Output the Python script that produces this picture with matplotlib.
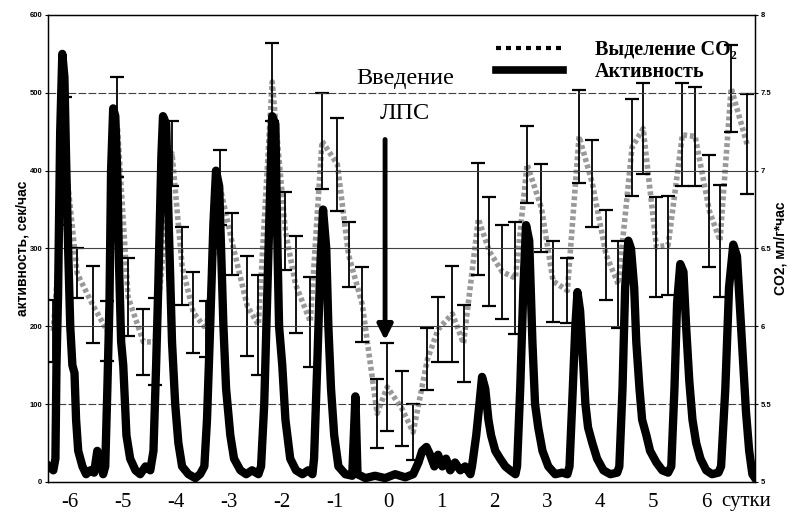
import matplotlib
matplotlib.use("Agg")
import matplotlib.pyplot as plt
from matplotlib.lines import Line2D
import matplotlib.transforms as mtransforms
import numpy as np

# activity (sec/hour) vs time in days relative to LPS injection
act_day = [-6.40, -6.32, -6.28, -6.26, -6.23, -6.19, -6.15, -6.11, -6.08, -6.04, -6.00, -5.96,
           -5.92, -5.89, -5.85, -5.77, -5.70, -5.62, -5.55, -5.49, -5.43, -5.38,
           -5.34, -5.30, -5.26, -5.23, -5.19, -5.15, -5.11, -5.08, -5.04, -5.00, -4.94, -4.87,
           -4.77, -4.68, -4.58, -4.49,
           -4.43, -4.38, -4.34, -4.28, -4.25, -4.19, -4.15, -4.11, -4.08, -4.02, -3.96, -3.89,
           -3.77, -3.64, -3.55,
           -3.47, -3.42, -3.36, -3.30, -3.25, -3.19, -3.15, -3.11, -3.06, -2.98, -2.91, -2.79,
           -2.68, -2.57, -2.45,
           -2.40, -2.34, -2.28, -2.23, -2.19, -2.13, -2.09, -2.06, -2.00, -1.94, -1.85, -1.74,
           -1.62, -1.51, -1.43,
           -1.40, -1.34, -1.28, -1.23, -1.17, -1.13, -1.08, -1.02, -0.94, -0.81, -0.68,
           -0.62, -0.58, -0.43, -0.25, -0.06, 0.13, 0.32, 0.47, 0.57, 0.64, 0.72, 0.79, 0.87,
           0.94, 1.02, 1.09, 1.17, 1.26, 1.36, 1.45, 1.55,
           1.58, 1.66, 1.72, 1.77, 1.83, 1.89, 1.94, 2.02, 2.11, 2.21, 2.30, 2.40,
           2.43, 2.49, 2.55, 2.60, 2.66, 2.72, 2.77, 2.83, 2.91, 3.02, 3.15, 3.28, 3.38,
           3.42, 3.47, 3.53, 3.57, 3.62, 3.68, 3.72, 3.77, 3.85, 3.94, 4.06, 4.19, 4.32,
           4.36, 4.42, 4.47, 4.53, 4.58, 4.64, 4.68, 4.74, 4.79, 4.87, 4.94, 5.06, 5.17, 5.28,
           5.34, 5.40, 5.45, 5.51, 5.57, 5.62, 5.68, 5.74, 5.81, 5.89, 6.00, 6.11, 6.23,
           6.28, 6.36, 6.43, 6.51, 6.58, 6.64, 6.70, 6.75, 6.81, 6.87, 6.92]
act_val = [20, 15, 30, 150, 240, 450, 550, 520, 420, 300, 200, 150,
           140, 80, 40, 20, 10, 15, 12, 40, 25, 10,
           20, 120, 230, 400, 480, 470, 390, 280, 180, 150, 60, 30,
           15, 10, 20, 15,
           40, 150, 250, 420, 470, 460, 350, 250, 180, 100, 50, 20,
           10, 5, 10,
           20, 80, 200, 330, 400, 380, 290, 200, 120, 60, 30, 15,
           10, 15, 10,
           20, 100, 250, 380, 470, 460, 300, 200, 150, 80, 30, 15,
           10, 15, 10,
           30, 150, 280, 350, 300, 200, 120, 60, 20, 10, 8,
           110, 10, 5, 8, 5, 10, 6, 10, 25, 40, 45, 35, 20,
           35, 20, 30, 15, 25, 15, 20, 10,
           20, 60, 100, 135, 120, 80, 60, 40, 30, 20, 15, 10,
           20, 120, 250, 330, 310, 180, 100, 70, 40, 20, 10, 12, 10,
           20, 100, 200, 244, 220, 150, 100, 70, 50, 30, 15, 10, 12,
           20, 120, 250, 310, 300, 250, 180, 120, 80, 60, 40, 25, 15, 12,
           20, 120, 230, 280, 270, 200, 130, 80, 50, 30, 15, 10, 12,
           20, 120, 250, 305, 290, 220, 150, 90, 40, 10, 5]

# CO2 release (ml/g*hour), 6-hour means with error bars
co2_day = [-6.32, -6.09, -5.87, -5.58, -5.30, -5.11, -4.91, -4.62, -4.40, -4.08, -3.89, -3.68,
           -3.43, -3.17, -2.94, -2.66, -2.45, -2.19, -1.94, -1.75, -1.47, -1.25, -0.96, -0.75,
           -0.49, -0.21, -0.02, 0.26, 0.47, 0.74, 0.94, 1.21, 1.42, 1.70, 1.91, 2.15, 2.40,
           2.62, 2.89, 3.11, 3.38, 3.60, 3.85, 4.11, 4.34, 4.60, 4.81, 5.06, 5.28, 5.55, 5.79,
           6.06, 6.26, 6.47, 6.77]
co2_mean = [5.97, 7.06, 6.34, 6.14, 5.97, 7.28, 6.19, 5.90, 5.90, 7.11, 6.39, 6.09,
            5.98, 6.89, 6.53, 6.13, 6.01, 7.57, 6.61, 6.27, 6.03, 7.19, 7.04, 6.46,
            6.14, 5.44, 5.61, 5.47, 5.32, 5.79, 5.98, 6.08, 5.89, 6.69, 6.48, 6.35, 6.31,
            7.04, 6.76, 6.29, 6.23, 7.22, 6.92, 6.46, 6.27, 7.15, 7.27, 6.51, 6.52, 7.23, 7.22,
            6.74, 6.55, 7.53, 7.17]
co2_err = [0.20, 0.41, 0.16, 0.25, 0.19, 0.32, 0.25, 0.21, 0.28, 0.21, 0.25, 0.26,
           0.18, 0.24, 0.20, 0.32, 0.32, 0.25, 0.25, 0.31, 0.29, 0.31, 0.30, 0.21,
           0.24, 0.22, 0.28, 0.24, 0.18, 0.20, 0.21, 0.31, 0.25, 0.36, 0.35, 0.30, 0.36,
           0.25, 0.28, 0.26, 0.21, 0.30, 0.28, 0.29, 0.28, 0.31, 0.29, 0.32, 0.32, 0.33, 0.32,
           0.36, 0.36, 0.28, 0.32]

day_ticks = [-6, -5, -4, -3, -2, -1, 0, 1, 2, 3, 4, 5, 6]
left_ticks = [0, 100, 200, 300, 400, 500, 600]
right_ticks = [5, 5.5, 6, 6.5, 7, 7.5, 8]

serif = ['Liberation Serif', 'DejaVu Serif']
sans = ['Liberation Sans', 'DejaVu Sans']

fig = plt.figure(figsize=(7.96, 5.2), dpi=100)
ax = fig.add_axes([0.0603, 0.0731, 0.8882, 0.8981])
ax2 = ax.twinx()

# CO2 on the right axis
ax2.plot(co2_day, co2_mean, color='0.6', lw=4, dashes=(0.7, 0.5), zorder=1)
ax2.errorbar(co2_day, co2_mean, yerr=co2_err, fmt='none', ecolor='black',
             elinewidth=1.3, capsize=5, capthick=1.6, zorder=2)
ax2.set_ylim(5, 8)
ax2.set_yticks(right_ticks)
ax2.set_yticklabels(['5', '5.5', '6', '6.5', '7', '7.5', '8'], fontsize=5.5,
                    fontweight='bold', family=sans)
ax2.tick_params(axis='y', length=2, width=0.8, pad=2)
ax2.set_ylabel('CO2, мл/г*час', fontsize=10, fontweight='bold', family=sans,
               rotation=90, labelpad=2)

# activity on the left axis, on top
ax.set_zorder(ax2.get_zorder() + 1)
ax.patch.set_visible(False)
for v in [100, 200, 300, 400, 500]:
    ls = (0, (7, 2)) if v in (100, 500) else '-'
    ax.axhline(v, color='0.25', lw=0.8, ls=ls, zorder=0)
ax.plot(act_day, act_val, color='black', lw=6, solid_joinstyle='round', zorder=3)

ax.set_xlim(-6.42, 6.92)
ax.set_ylim(0, 600)
ax.set_yticks(left_ticks)
ax.set_yticklabels([str(t) for t in left_ticks], fontsize=5.5, fontweight='bold', family=sans)
ax.tick_params(axis='y', length=2, width=0.8, pad=2)
ax.set_ylabel('активность, сек/час', fontsize=10, fontweight='bold', family=sans, labelpad=0)

ax.set_xticks(day_ticks)
ax.set_xticklabels([str(d) for d in day_ticks], fontsize=15, family=serif)
ax.tick_params(axis='x', length=0, pad=8)
trans = mtransforms.blended_transform_factory(ax.transData, ax.transAxes)
ax.text(6.28, -0.0215, 'сутки', transform=trans, ha='left', va='top', fontsize=15,
        family=serif)

for sp in ax.spines.values():
    sp.set_linewidth(1.0)

# LPS injection
ax.text(0.32, 519, 'Введение', ha='center', va='center', fontsize=17.5, family=serif)
ax.text(0.32, 474, 'ЛПС', ha='center', va='center', fontsize=17.5, family=serif)
ax.annotate('', xy=(-0.06, 182), xytext=(-0.06, 440),
            arrowprops=dict(arrowstyle='-|>,head_width=0.45,head_length=0.9',
                            color='black', lw=3.5, shrinkA=0, shrinkB=0), zorder=5)

handles = [Line2D([], [], color='black', lw=3, dashes=(1.2, 1.2)),
           Line2D([], [], color='black', lw=5.5)]
ax.legend(handles, ['Выделение CO₂', 'Активность'], loc='upper right',
          bbox_to_anchor=(1.0, 0.985), frameon=False, handlelength=3.3,
          handletextpad=1.6, labelspacing=0.1,
          prop={'family': serif, 'weight': 'bold', 'size': 14.5})

fig.savefig('out.png', dpi=100)
